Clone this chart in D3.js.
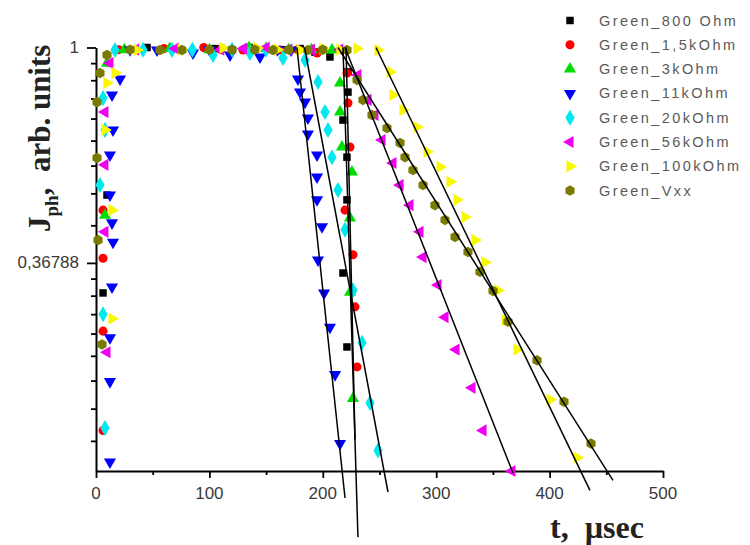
<!DOCTYPE html>
<html><head><meta charset="utf-8">
<script src="https://cdn.jsdelivr.net/npm/d3@7/dist/d3.min.js"></script>
<style>
html,body{margin:0;padding:0;background:#fff;}
svg{display:block;}
text{white-space:pre;}
</style></head>
<body>
<svg id="chart" width="750" height="545"></svg>
<script>
// ---------------- data ----------------
const seriesNames = ["Green_800 Ohm","Green_1,5kOhm","Green_3kOhm","Green_11kOhm","Green_20kOhm","Green_56kOhm","Green_100kOhm","Green_Vxx"];
const seriesColors = ["#000000","#ff0000","#00dd00","#0000ff","#00e8f0","#f000f0","#f8f800","#7a7a00"];
const seriesSymbols = ["square","circle","triUp","triDown","diamond","triLeft","triRight","hexagon"];

const t800 = [6.2,9.7,18,45,75,105,120,135,165,180,193.1,206.3,222.2,222.2,217.8,221.3,221.3,217.8,221.3];
const j800 = [0.320,0.504,0.99,1.0,0.99,0.995,0.99,1.0,0.99,0.995,0.979,0.957,0.893,0.813,0.714,0.601,0.493,0.351,0.249];

const t1k5 = [6.2,6.2,6.2,6.2,20,60,95,110,129.6,162.3,178,195.0,221.3,222.2,224.0,219.6,226.6,228.4,230.2];
const j1k5 = [0.169,0.268,0.376,0.470,0.99,0.995,1.0,0.99,0.988,0.988,0.99,0.975,0.888,0.773,0.630,0.470,0.382,0.300,0.227];

const t3k = [7.9,9.7,25,65,100,135,150,170,190,208.1,215.2,215.2,216.9,225.7,224.0,224.0,226.6];
const j3k = [0.459,0.93,0.99,0.995,0.99,1.0,0.995,0.99,0.99,0.988,0.848,0.741,0.630,0.561,0.453,0.321,0.196];

const t11k = [12.3,12.3,12.3,14.1,15.0,14.1,12.3,12.3,15.0,14.1,21.2,30,53.8,85.5,100,118.2,144.6,160,172.0,178.1,179.9,184.3,186.9,186.9,194.9,194.9,194.9,199.3,195.8,201.1,206.3,210.8,215.2];
const j11k = [0.146,0.212,0.260,0.329,0.405,0.443,0.504,0.607,0.682,0.802,0.864,0.99,0.988,0.975,0.99,0.966,0.957,0.99,0.988,0.864,0.813,0.776,0.721,0.669,0.607,0.548,0.493,0.435,0.373,0.320,0.273,0.219,0.159];

const t20k = [7.9,6.2,3.5,7.9,6.2,16.8,41.4,67.0,85,103.2,120,135.8,150,164.9,184.3,195.8,201.9,204.6,208.1,213.4,219.6,226.6,234.6,241.6,248.7];
const j20k = [0.171,0.290,0.528,0.682,0.791,0.988,0.99,0.988,0.99,0.966,0.99,0.975,0.99,0.952,0.944,0.852,0.741,0.682,0.601,0.516,0.429,0.324,0.254,0.192,0.154];

const t56k = [9.7,7.9,7.9,7.9,12.3,35,70,110,130,150,170,190,215,231.0,239.9,246.0,252.2,261.9,268.1,276.9,285.7,288.4,301.6,307.8,317.5,331.6,341.3,366.8];
const j56k = [0.243,0.425,0.580,0.741,0.93,0.99,0.995,0.99,0.995,1.0,0.99,0.99,0.99,0.880,0.784,0.731,0.651,0.585,0.528,0.481,0.425,0.378,0.332,0.286,0.246,0.206,0.169,0.140];

const t100k = [14.1,14.1,7.9,9.7,16.8,36.2,75,112.0,142.0,160,179.9,200,215,230,248.7,259.3,261.9,270.7,283.1,291.9,303.4,312.2,318.3,325.4,334.2,343.0,354.5,360.7,371.2,400.4,424.2];
const j100k = [0.284,0.470,0.682,0.848,0.888,0.988,0.99,0.998,0.998,0.99,0.988,0.995,0.99,0.995,0.988,0.893,0.802,0.748,0.691,0.616,0.574,0.536,0.493,0.455,0.409,0.369,0.324,0.282,0.246,0.195,0.149];

const tVxx = [5.3,1.8,0.9,0.9,3.5,9.7,30,56.4,75.8,100,120,140,156.1,170,186.9,200,221.3,230.2,235.4,243.4,256.6,268.1,272.5,279.5,288.4,298.9,307.8,316.6,328.0,338.6,350.1,363.3,388.9,412.7,436.5];
const jVxx = [0.252,0.409,0.599,0.776,0.888,0.966,0.99,0.988,0.988,0.99,0.99,0.99,0.988,0.99,0.988,0.99,0.988,0.860,0.784,0.731,0.688,0.642,0.601,0.566,0.528,0.481,0.449,0.415,0.387,0.353,0.323,0.280,0.234,0.193,0.159];

const seriesT = [t800,t1k5,t3k,t11k,t20k,t56k,t100k,tVxx];
const seriesJ = [j800,j1k5,j3k,j11k,j20k,j56k,j100k,jVxx];

// exponential fit lines (start t, start J, end t, end J)
const fitT0 = [217.8,220.5,177.2,183.9,219.6,246.9,213.4];
const fitJ0 = [1.0,1.0,1.0,1.0,1.0,1.0,1.0];
const fitT1 = [231.0,228.4,219.6,257.5,367.7,435.6,455.9];
const fitJ1 = [0.103,0.162,0.1235,0.127,0.1387,0.128,0.134];

// axes
const xMajorTicks = [0,100,200,300,400,500];
const xMinorTicks = [50,150,250,350,450];
const yMajorTicks = [1,0.36788];
const yMajorLabels = ["1","0,36788"];
const yMinorTicks = [0.930,0.859,0.789,0.719,0.649,0.578,0.508,0.438,0.342,0.316,0.290,0.265,0.239,0.213,0.187,0.161];

// ---------------- drawing ----------------
const svg = d3.select("#chart");
const x = d3.scaleLinear().domain([0,500]).range([96,663]);
const y = d3.scaleLog().base(Math.E).domain([0.14,1]).range([471,47.5]);

const sansFont = "'Liberation Sans', Arial, sans-serif";
const serifFont = "'Liberation Serif', 'Times New Roman', serif";

function triangle(rot){
  return {draw(ctx,size){
    const s = Math.sqrt(size*4/Math.sqrt(3));
    const h = s*Math.sqrt(3)/2;
    const pts = [[0,-2*h/3],[s/2,h/3],[-s/2,h/3]].map(([px,py])=>{
      const a = rot*Math.PI/180;
      return [px*Math.cos(a)-py*Math.sin(a), px*Math.sin(a)+py*Math.cos(a)];
    });
    ctx.moveTo(pts[0][0],pts[0][1]);ctx.lineTo(pts[1][0],pts[1][1]);ctx.lineTo(pts[2][0],pts[2][1]);ctx.closePath();
  }};
}
const hexagon = {draw(ctx,size){
  const r = Math.sqrt(size/(1.5*Math.sqrt(3)));
  for(let i=0;i<6;i++){const a=Math.PI/6+i*Math.PI/3;const px=r*Math.cos(a),py=r*Math.sin(a); if(i===0)ctx.moveTo(px,py); else ctx.lineTo(px,py);}
  ctx.closePath();
}};
const symbolTypes = {
  square:[d3.symbolSquare,56],
  circle:[d3.symbolCircle,64],
  triUp:[triangle(0),64],
  triDown:[triangle(180),64],
  diamond:[d3.symbolDiamond,74],
  triLeft:[triangle(-90),64],
  triRight:[triangle(90),64],
  hexagon:[hexagon,72]
};
function symPath(name){const [type,size]=symbolTypes[name];return d3.symbol().type(type).size(size)();}

// axes
const axisG = svg.append("g").attr("class","axes");
const xAxisMajor = d3.axisBottom(x).tickValues(xMajorTicks).tickSize(7).tickSizeOuter(0).tickFormat("");
const xAxisMinor = d3.axisBottom(x).tickValues(xMinorTicks).tickSize(4).tickSizeOuter(0).tickFormat("");
axisG.append("g").attr("transform","translate(0,471)").call(xAxisMajor);
axisG.append("g").attr("transform","translate(0,471)").call(xAxisMinor).select(".domain").remove();
const yAxisMajor = d3.axisLeft(y).tickValues(yMajorTicks).tickSize(9).tickSizeOuter(0).tickFormat("");
const yAxisMinor = d3.axisLeft(y).tickValues(yMinorTicks).tickSize(5).tickSizeOuter(0).tickFormat("");
axisG.append("g").attr("transform","translate(96,0)").call(yAxisMajor);
axisG.append("g").attr("transform","translate(96,0)").call(yAxisMinor).select(".domain").remove();
axisG.selectAll("path.domain").attr("stroke","#000").attr("stroke-width",2);
axisG.selectAll(".tick line").attr("stroke","#000").attr("stroke-width",1.8);

// tick labels
svg.append("g").selectAll("text").data(xMajorTicks).join("text")
  .attr("x",d=>x(d)).attr("y",499).attr("text-anchor","middle")
  .attr("font-family",sansFont).attr("font-size",17).attr("fill","#3a3a3a")
  .text(d=>d);
svg.append("g").selectAll("text").data(yMajorTicks).join("text")
  .attr("x",79).attr("y",d=>y(d)+5).attr("text-anchor","end")
  .attr("font-family",sansFont).attr("font-size",17).attr("fill","#3a3a3a")
  .text((d,i)=>yMajorLabels[i]);

// axis titles
svg.append("text").attr("x",550).attr("y",538)
  .attr("font-family",serifFont).attr("font-weight","bold").attr("font-size",32).attr("fill","#222")
  .text("t,  \u00b5sec");
const yt = svg.append("text").attr("transform","translate(50,232) rotate(-90)")
  .attr("font-family",serifFont).attr("font-weight","bold").attr("font-size",31).attr("fill","#222");
yt.append("tspan").text("J");
yt.append("tspan").attr("dy",8).attr("font-size",19).text("ph");
yt.append("tspan").attr("dy",-8).text(",  arb. units");

// markers
const markG = svg.append("g");
seriesNames.forEach((name,i)=>{
  const pts = seriesT[i].map((t,k)=>({t, j:seriesJ[i][k]}));
  markG.append("g").selectAll("path").data(pts).join("path")
    .attr("transform",d=>`translate(${x(d.t)},${y(d.j)})`)
    .attr("d",symPath(seriesSymbols[i]))
    .attr("fill",seriesColors[i]);
});

// fit lines
const lineG = svg.append("g");
fitT0.forEach((t0,i)=>{
  lineG.append("line")
    .attr("x1",x(t0)).attr("y1",y(fitJ0[i]))
    .attr("x2",x(fitT1[i])).attr("y2",y(fitJ1[i]))
    .attr("stroke","#000").attr("stroke-width",1.5);
});

// legend
const leg = svg.append("g");
seriesNames.forEach((name,i)=>{
  const yy = 20.5 + i*24.3;
  leg.append("path").attr("transform",`translate(570,${yy})`).attr("d",symPath(seriesSymbols[i])).attr("fill",seriesColors[i]);
  leg.append("text").attr("x",599).attr("y",yy+5)
    .attr("font-family",sansFont).attr("font-size",14.5).attr("letter-spacing",2.4).attr("fill","#5a5a5a")
    .text(name);
});
</script>
</body></html>
